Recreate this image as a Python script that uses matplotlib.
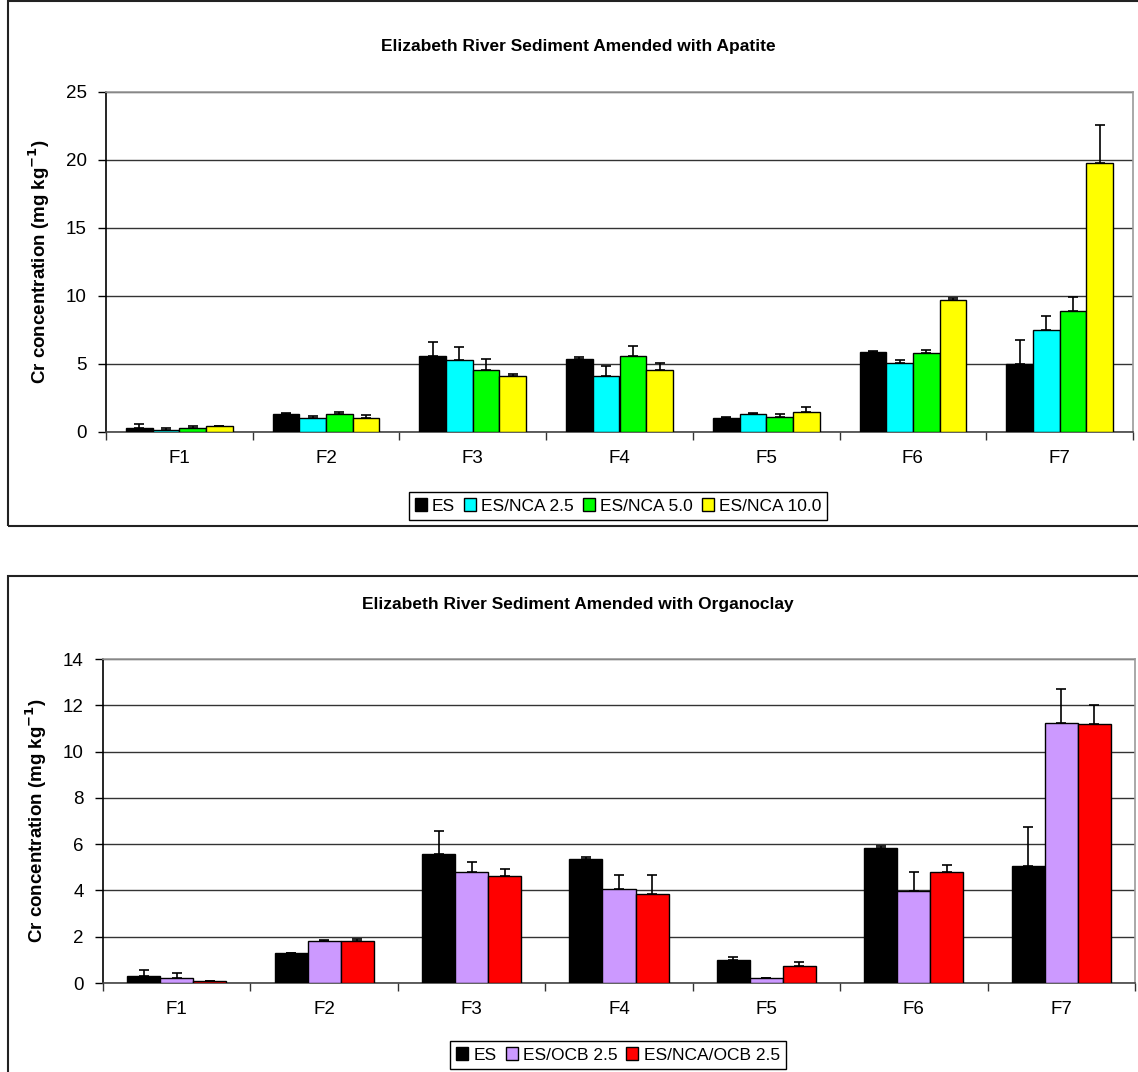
import numpy as np
import matplotlib.pyplot as plt
from matplotlib.patches import Rectangle

plt.rcParams['font.family'] = ['Liberation Sans', 'DejaVu Sans']

fractions = ['F1', 'F2', 'F3', 'F4', 'F5', 'F6', 'F7']

# Apatite series (mean, upper error)
apatite_labels = ['ES', 'ES/NCA 2.5', 'ES/NCA 5.0', 'ES/NCA 10.0']
apatite_colors = ['#000000', '#00FFFF', '#00FF00', '#FFFF00']
es = [0.30, 1.32, 5.57, 5.37, 1.03, 5.84, 5.00]
es_err = [0.28, 0.03, 1.00, 0.10, 0.07, 0.06, 1.74]
nca25 = [0.12, 1.00, 5.25, 4.07, 1.30, 5.08, 7.48]
nca25_err = [0.18, 0.13, 0.95, 0.74, 0.10, 0.19, 1.03]
nca50 = [0.30, 1.28, 4.51, 5.54, 1.10, 5.81, 8.88]
nca50_err = [0.10, 0.14, 0.86, 0.74, 0.20, 0.22, 1.02]
nca100 = [0.40, 1.03, 4.07, 4.51, 1.47, 9.71, 19.76]
nca100_err = [0.02, 0.17, 0.17, 0.57, 0.37, 0.10, 2.79]

# Organoclay series
organo_labels = ['ES', 'ES/OCB 2.5', 'ES/NCA/OCB 2.5']
organo_colors = ['#000000', '#CC99FF', '#FF0000']
es_o = [0.32, 1.28, 5.59, 5.36, 0.98, 5.85, 5.04]
es_o_err = [0.23, 0.02, 0.99, 0.10, 0.14, 0.05, 1.69]
ocb = [0.22, 1.80, 4.78, 4.06, 0.20, 3.98, 11.24]
ocb_err = [0.20, 0.06, 0.44, 0.61, 0.02, 0.83, 1.45]
nca_ocb = [0.07, 1.80, 4.61, 3.83, 0.75, 4.81, 11.18]
nca_ocb_err = [0.03, 0.12, 0.33, 0.84, 0.17, 0.28, 0.85]

W, H = 1138, 1072
fig = plt.figure(figsize=(W / 100, H / 100), dpi=100)


def fy(py):
    return 1 - py / H


# outer chart boxes
for top, bot in [(1, 526), (576, 1080)]:
    fig.patches.append(Rectangle((8 / W, fy(bot)), (1150 - 8) / W, (bot - top) / H,
                                 transform=fig.transFigure, fill=False,
                                 edgecolor='#222222', linewidth=1.5))


def draw(ax, series, errs, colors, labels, width, ymax, ystep):
    x = np.arange(len(fractions))
    n = len(series)
    handles = []
    for i, (vals, err, c, lab) in enumerate(zip(series, errs, colors, labels)):
        pos = x + (i - (n - 1) / 2) * width
        b = ax.bar(pos, vals, width, color=c, edgecolor='black', linewidth=1.0,
                   label=lab, zorder=3)
        ax.errorbar(pos, vals, yerr=[np.zeros(len(vals)), err], fmt='none',
                    ecolor='black', elinewidth=1.2, capsize=3.6, capthick=1.2, zorder=4)
        handles.append(b)
    ax.set_xlim(-0.5, len(fractions) - 0.5)
    ax.set_ylim(0, ymax)
    ax.set_yticks(np.arange(0, ymax + 0.1, ystep))
    ax.set_xticks(x)
    ax.set_xticklabels(fractions)
    ax.set_xticks(np.arange(-0.5, len(fractions)), minor=True)
    ax.tick_params(axis='x', which='major', length=0, pad=13, labelsize=13.5)
    ax.tick_params(axis='x', which='minor', length=6, width=1, direction='out', color='#333333')
    ax.tick_params(axis='y', length=6, width=1, direction='out', pad=8, labelsize=13.5)
    ax.yaxis.grid(True, color='#333333', linewidth=1, zorder=0)
    ax.set_axisbelow(True)
    ax.spines['left'].set_color('black')
    ax.spines['bottom'].set_color('#444444')
    ax.spines['top'].set_color('#999999')
    ax.spines['right'].set_color('#999999')
    for s in ax.spines.values():
        s.set_linewidth(1.2)
    ax.set_ylabel('Cr concentration (mg kg$^{\\mathbf{-1}}$)', fontsize=13.5,
                  fontweight='bold', labelpad=10)
    return handles


ax1 = fig.add_axes([106 / W, fy(431.7), 1027 / W, (431.7 - 91.7) / H])
h1 = draw(ax1, [es, nca25, nca50, nca100], [es_err, nca25_err, nca50_err, nca100_err],
          apatite_colors, apatite_labels, 0.182, 25, 5)
ax2 = fig.add_axes([103 / W, fy(983), 1032 / W, (983 - 659) / H])
h2 = draw(ax2, [es_o, ocb, nca_ocb], [es_o_err, ocb_err, nca_ocb_err],
          organo_colors, organo_labels, 0.224, 14, 2)

fig.text(578 / W, fy(47), 'Elizabeth River Sediment Amended with Apatite',
         ha='center', va='center', fontsize=12.5, fontweight='bold')
fig.text(578 / W, fy(605), 'Elizabeth River Sediment Amended with Organoclay',
         ha='center', va='center', fontsize=12.5, fontweight='bold')

for handles, labels, yc in [(h1, apatite_labels, 506), (h2, organo_labels, 1055)]:
    leg = fig.legend(handles, labels, loc='center', bbox_to_anchor=(618 / W, fy(yc)),
                     ncol=len(labels), fontsize=12.5, frameon=True, fancybox=False,
                     edgecolor='black', framealpha=1, handlelength=0.7, handleheight=0.7,
                     handletextpad=0.3, columnspacing=0.5, borderpad=0.35,
                     borderaxespad=0)
    leg.get_frame().set_linewidth(1.0)

fig.savefig('out.png', dpi=100)
